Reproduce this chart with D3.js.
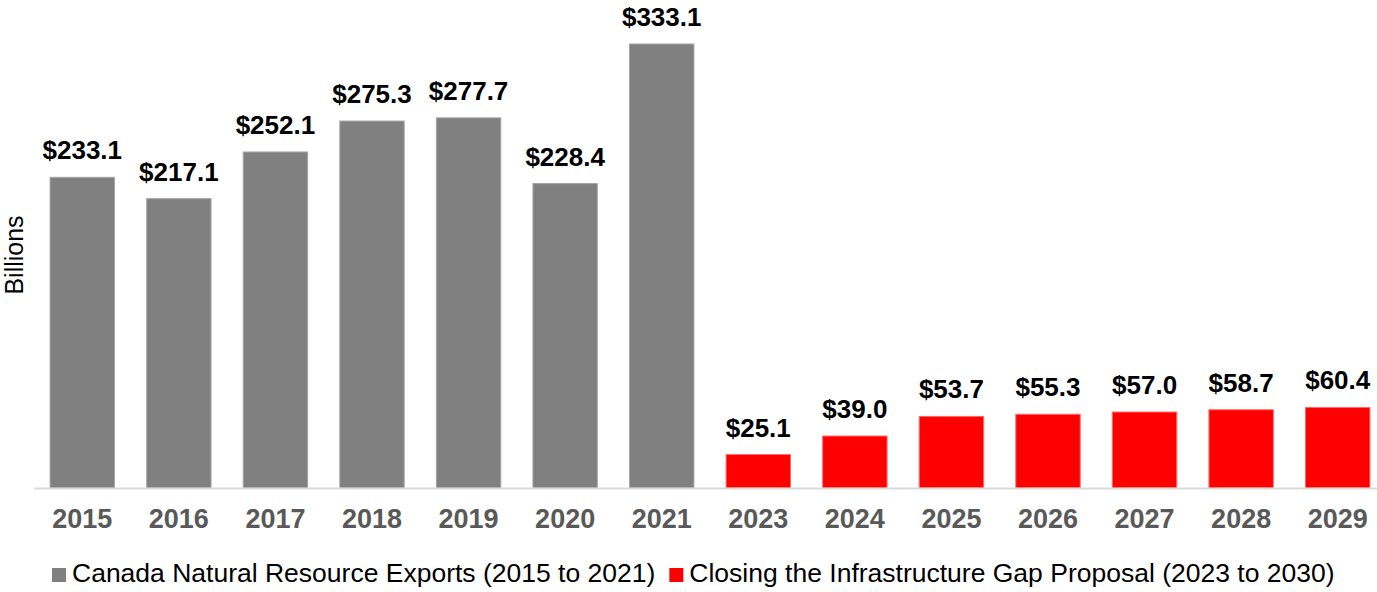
<!DOCTYPE html>
<html>
<head>
<meta charset="utf-8">
<script src="https://cdn.jsdelivr.net/npm/d3@7"></script>
<style>
  html, body { margin: 0; padding: 0; background: #fff; }
  svg { display: block; font-family: "Liberation Sans", Arial, sans-serif; }
</style>
</head>
<body>
<svg id="chart" width="1377" height="592"></svg>
<script>
// Years shown on the category axis
const years = ["2015", "2016", "2017", "2018", "2019", "2020", "2021",
               "2023", "2024", "2025", "2026", "2027", "2028", "2029"];
// Natural resource exports, billions of dollars (2015 to 2021)
const exportsValues = [233.1, 217.1, 252.1, 275.3, 277.7, 228.4, 333.1];
// Infrastructure gap proposal, billions of dollars (2023 to 2029)
const proposalValues = [25.1, 39.0, 53.7, 55.3, 57.0, 58.7, 60.4];
// Series names for the legend
const seriesNames = ["Canada Natural Resource Exports (2015 to 2021)",
                     "Closing the Infrastructure Gap Proposal (2023 to 2030)"];
const seriesColors = ["#808080", "#ff0000"];

const rows = years.map((y, i) => {
  const isExport = i < exportsValues.length;
  return {
    year: y,
    value: isExport ? exportsValues[i] : proposalValues[i - exportsValues.length],
    series: isExport ? 0 : 1
  };
});

const svg = d3.select("#chart");
const baseY = 488;

const x = d3.scaleBand()
  .domain(years)
  .range([34, 1386])
  .paddingInner(0.333)
  .paddingOuter(0.1665);

const y = d3.scaleLinear()
  .domain([0, 333.1])
  .range([baseY, 44]);

// Bars
svg.append("g")
  .selectAll("rect")
  .data(rows)
  .join("rect")
  .attr("x", d => x(d.year))
  .attr("y", d => y(d.value))
  .attr("width", x.bandwidth())
  .attr("height", d => baseY - y(d.value))
  .attr("fill", d => seriesColors[d.series])
  .attr("stroke", d => d.series === 0 ? "#a6a6a6" : "#ff6a6a")
  .attr("stroke-width", 1);

// Baseline
svg.append("line")
  .attr("x1", 34).attr("x2", 1377)
  .attr("y1", baseY + 0.5).attr("y2", baseY + 0.5)
  .attr("stroke", "#d9d9d9")
  .attr("stroke-width", 2);

// Category axis
const xAxis = svg.append("g")
  .attr("transform", `translate(0,${baseY})`)
  .call(d3.axisBottom(x).tickSize(0).tickPadding(0));
xAxis.select(".domain").remove();
xAxis.selectAll("text")
  .attr("dy", null)
  .attr("y", 40)
  .attr("fill", "#595959")
  .style("font-size", "27px")
  .style("font-weight", "bold")
  .style("font-family", "'Liberation Sans', Arial, sans-serif");

// Value labels
svg.append("g")
  .selectAll("text")
  .data(rows)
  .join("text")
  .attr("x", d => x(d.year) + x.bandwidth() / 2)
  .attr("y", d => y(d.value) - 18)
  .attr("text-anchor", "middle")
  .attr("fill", "#000")
  .style("font-size", "26px")
  .style("font-weight", "bold")
  .text(d => "$" + d.value.toFixed(1));

// Axis title
svg.append("text")
  .attr("transform", "translate(23,255) rotate(-90)")
  .attr("text-anchor", "middle")
  .attr("fill", "#000")
  .style("font-size", "25px")
  .text("Billions");

// Legend
const legend = svg.append("g");
let lx = 52;
seriesNames.forEach((name, i) => {
  legend.append("rect")
    .attr("x", lx).attr("y", 568)
    .attr("width", 14).attr("height", 14)
    .attr("fill", seriesColors[i]);
  const t = legend.append("text")
    .attr("x", lx + 20)
    .attr("y", 582)
    .attr("fill", "#000")
    .style("font-size", "26.5px")
    .text(name);
  lx = lx + 20 + t.node().getComputedTextLength() + 14;
});
</script>
</body>
</html>
